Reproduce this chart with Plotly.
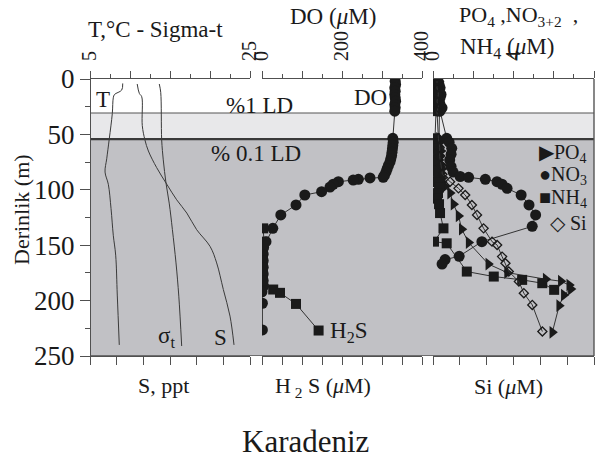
import plotly.graph_objects as go

# ---------------- data ----------------
t_depth = [4, 10, 14, 17, 31, 54, 72, 84, 95, 117, 141, 159, 195, 240]
t_vals = [9.09, 8.96, 8.06, 7.91, 7.79, 7.41, 7.09, 6.88, 7.29, 7.63, 7.91, 8.21, 8.41, 8.66]

sig_depth = [4.5, 12, 55, 73, 94, 112, 136, 166, 196, 241]
sig_vals = [13.66, 13.84, 13.96, 14.16, 14.5, 14.9, 15.3, 15.75, 16.1, 16.46]

s_depth = [4.5, 13, 16, 42, 55, 65, 80, 95, 109, 121, 136, 151, 166, 190, 214, 240]
s_vals = [17.77, 17.85, 17.94, 17.96, 18.06, 18.19, 18.5, 18.88, 19.25, 19.63, 20.0, 20.5, 20.75, 21.0, 21.25, 21.4]

do_depth = [2, 5, 8, 11, 14, 17, 20, 23, 26, 29,
            53.5, 57, 60, 63, 66, 69, 72, 75, 78, 81, 84, 87, 88.7,
            89.3, 90.5, 91.2, 92.7, 95, 97.5, 101.7, 104.7, 113.7, 122.7, 134.8, 146.8,
            152, 158, 164, 170, 176, 182, 187, 192, 202.4, 226.5]
do_vals = [333, 334, 332, 333, 332, 333, 334, 332, 333, 332,
           327, 328, 327, 326, 325, 324, 322, 320, 316, 313, 310, 306, 303,
           270, 241, 228, 191, 178, 170, 149, 107, 85, 47, 27, 10,
           4, 3, 3, 3, 3, 3, 4, 0, 1, 1]

h2s_depth = [134.8, 146.8, 152, 158, 164, 170, 176, 182, 190, 193, 203, 227]
h2s_vals = [0.6, 1.0, 0.5, 0.5, 0.5, 0.5, 0.5, 0.5, 5.6, 9.0, 17.0, 28.3]

po4_depth = [2, 5, 8, 11, 14, 17, 20, 23, 26, 29,
             53.5, 57, 61, 65, 69, 73, 77, 81, 85, 89, 93, 97,
             103, 113, 123.6, 135.6, 147.6, 167, 174.7, 180.7, 182.5, 186, 189.6, 195, 204.6, 228.6]
po4_vals = [0.3, 0.25, 0.35, 0.3, 0.28, 0.32, 0.3, 0.35, 0.3, 0.32,
            0.3, 0.35, 0.3, 0.4, 0.35, 0.3, 0.4, 0.45, 0.4, 0.5, 0.45, 0.6,
            0.85, 1.02, 1.27, 1.43, 1.77, 2.75, 3.68, 5.6, 6.35, 6.77, 6.85, 6.5, 6.27, 5.93]

no3_depth = [2, 5, 8, 11, 14, 17, 20, 23, 26, 29,
             53.5, 57, 62.6, 68, 73, 79, 84, 88, 88.7, 90.5, 92.7, 95, 98.7,
             104.7, 113.7, 122.7, 133, 146.8, 160, 163, 167]
no3_vals = [0.25, 0.3, 0.35, 0.3, 0.4, 0.35, 0.3, 0.35, 0.45, 0.35,
            0.68, 0.8, 0.93, 0.9, 0.83, 0.9, 1.0, 1.35, 1.77, 2.6, 3.18, 3.43, 3.68,
            4.38, 4.77, 5.1, 4.93, 2.43, 1.3, 0.6, 0.45]

nh4_depth = [2, 5, 8, 11, 14, 17, 20, 23, 26, 29,
             53.5, 58, 63, 68, 73, 78, 83, 88, 93, 98, 103, 108, 113,
             121, 134.8, 146.8, 148.3, 173.8, 178.3, 181.3, 184.3, 190.3]
nh4_vals = [0.1, 0.15, 0.1, 0.2, 0.15, 0.1, 0.2, 0.15, 0.1, 0.15,
            0.1, 0.2, 0.15, 0.25, 0.2, 0.15, 0.2, 0.25, 0.2, 0.3, 0.25, 0.2, 0.3,
            0.35, 0.52, 0.05, 0.68, 1.68, 3.02, 4.43, 5.43, 6.02]

si_depth = [2, 8, 14, 20, 26, 29, 53.5, 62, 70, 78, 86,
            92.7, 98.7, 104.7, 113.7, 122.7, 134.8, 146.8, 149.8, 160.3, 166.3, 173.8, 182.8, 193.3, 203.9, 227.9]
si_vals = [3, 3, 4, 3, 4, 3, 4, 5, 5, 6, 7,
           12.75, 19, 24, 29, 32.8, 37.7, 44, 47.8, 51.5, 54, 56.5, 64, 67.7, 74, 81.5]

# light zones (depth, m)
ld1_depth = 30.7
ld01_depth = 54.2
max_depth = 250

# ---------------- layout helpers ----------------
W, H = 603, 465
L, R, T, B = 90, 594, 79, 356
FONT = "Liberation Serif, Times New Roman, serif"
INK = "#1a1a1a"
AX = "#505050"


def px(x):
    return (x - L) / (R - L)


def py(y):
    return (B - y) / (B - T)


d1 = [px(90), px(250)]
d2 = [px(262), px(422)]
d3 = [px(433), 1.0]

fig = go.Figure()

line_style = dict(color="#3a3a3a", width=1)
conn = dict(color="#333333", width=1)

fig.add_trace(go.Scatter(x=t_vals, y=t_depth, xaxis="x", yaxis="y", mode="lines",
                         line=line_style, line_shape="spline"))
fig.add_trace(go.Scatter(x=sig_vals, y=sig_depth, xaxis="x", yaxis="y", mode="lines",
                         line=line_style, line_shape="spline"))
fig.add_trace(go.Scatter(x=s_vals, y=s_depth, xaxis="x4", yaxis="y", mode="lines",
                         line=line_style, line_shape="spline"))

fig.add_trace(go.Scatter(x=h2s_vals, y=h2s_depth, xaxis="x5", yaxis="y", mode="lines+markers",
                         line=conn, marker=dict(symbol="square", size=10, color=INK)))
fig.add_trace(go.Scatter(x=do_vals, y=do_depth, xaxis="x2", yaxis="y", mode="lines+markers",
                         line=conn, marker=dict(symbol="circle", size=11, color=INK)))

fig.add_trace(go.Scatter(x=si_vals, y=si_depth, xaxis="x6", yaxis="y", mode="lines+markers",
                         line=conn, marker=dict(symbol="diamond-open", size=7, color=INK,
                                                line=dict(width=1.3, color=INK))))
fig.add_trace(go.Scatter(x=po4_vals, y=po4_depth, xaxis="x3", yaxis="y", mode="lines+markers",
                         line=conn, marker=dict(symbol="triangle-right", size=11, color=INK)))
fig.add_trace(go.Scatter(x=nh4_vals, y=nh4_depth, xaxis="x3", yaxis="y", mode="lines+markers",
                         line=conn, marker=dict(symbol="square", size=10, color=INK)))
fig.add_trace(go.Scatter(x=no3_vals, y=no3_depth, xaxis="x3", yaxis="y", mode="lines+markers",
                         line=conn, marker=dict(symbol="circle", size=11, color=INK)))

axbase = dict(showline=True, linecolor=AX, linewidth=1.2, ticks="outside", tickcolor=AX,
              ticklen=7, tickwidth=1.1, showgrid=False, zeroline=False, automargin=False,
              tickfont=dict(family=FONT, size=20, color=INK))
top = dict(axbase, side="top", anchor="y", tickangle=-90, ticklabelstandoff=6)
bot = dict(axbase, side="bottom", anchor="y", showticklabels=False, ticklen=8)

fig.update_layout(
    width=W, height=H,
    margin=dict(l=L, r=W - R, t=T, b=H - B),
    plot_bgcolor="rgba(0,0,0,0)", paper_bgcolor="white", showlegend=False,
    hovermode=False,
    xaxis=dict(top, domain=d1, range=[5, 25], tickmode="array",
               tickvals=[5, 10, 15, 20, 25], ticktext=["5", "", "", "", "25"],
               minor=dict(tickmode="linear", tick0=5, dtick=2.5, ticklen=4, ticks="outside", tickcolor=AX)),
    xaxis2=dict(top, domain=d2, range=[0, 400], tickmode="array",
                tickvals=[0, 100, 200, 300, 400], ticktext=["0", "", "200", "", "400"],
                minor=dict(tickmode="linear", tick0=0, dtick=50, ticklen=4, ticks="outside", tickcolor=AX)),
    xaxis3=dict(top, domain=d3, range=[0, 8], tickmode="array",
                tickvals=[0, 2, 4, 6, 8], ticktext=["0", "", "4", "", "8"],
                minor=dict(tickmode="linear", tick0=0, dtick=1, ticklen=4, ticks="outside", tickcolor=AX)),
    xaxis4=dict(bot, domain=d1, range=[16, 22], dtick=1, tick0=16),
    xaxis5=dict(bot, domain=d2, range=[0, 80], dtick=10, tick0=0),
    xaxis6=dict(bot, domain=d3, range=[0, 120], dtick=20, tick0=0),
    yaxis=dict(axbase, range=[max_depth, 0], anchor="free", position=0, side="left",
               tickmode="array", tickvals=[0, 50, 100, 150, 200, 250],
               tickfont=dict(family=FONT, size=27, color=INK), ticklen=10,
               minor=dict(tickmode="linear", tick0=25, dtick=50, ticklen=5, ticks="outside", tickcolor=AX)),
)

shapes = [
    dict(type="rect", xref="paper", yref="y", x0=0, x1=1, y0=ld1_depth, y1=ld01_depth,
         fillcolor="#e8e8ea", line=dict(width=0), layer="below"),
    dict(type="rect", xref="paper", yref="y", x0=0, x1=1, y0=ld01_depth, y1=max_depth,
         fillcolor="#c1c1c5", line=dict(width=0), layer="below"),
    dict(type="line", xref="paper", yref="y", x0=0, x1=1, y0=ld1_depth, y1=ld1_depth,
         line=dict(color="#555555", width=1.2), layer="below"),
    dict(type="line", xref="paper", yref="y", x0=0, x1=1, y0=ld01_depth, y1=ld01_depth,
         line=dict(color="#3a3a3a", width=2.2), layer="below"),
    dict(type="line", xref="paper", yref="y", x0=1, x1=1, y0=0, y1=max_depth,
         line=dict(color="#555555", width=1.4), layer="above"),
    dict(type="line", xref="paper", yref="y", x0=0, x1=1, y0=max_depth, y1=max_depth,
         line=dict(color="#505050", width=1.4), layer="above"),
]
fig.update_layout(shapes=shapes)


def ann(text, x, y, size=20, xanchor="center", yanchor="middle", angle=0):
    fig.add_annotation(text=text, x=px(x), y=py(y), xref="paper", yref="paper",
                       showarrow=False, xanchor=xanchor, yanchor=yanchor, textangle=angle,
                       font=dict(family=FONT, size=size, color=INK))


ann("T,°C - Sigma-t", 155, 30, 23)
ann("DO (<i>μ</i>M)", 333, 16, 23)
ann("PO<sub>4</sub> ,NO<sub>3+2</sub>  ,", 457, 16, 22, xanchor="left")
ann("NH<sub>4</sub> (<i>μ</i>M)", 458, 48, 23, xanchor="left")
ann("T", 103, 100, 23)
ann("%1 LD", 259, 105, 23)
ann("% 0.1 LD", 256, 153, 23)
ann("DO", 389, 97, 23, xanchor="right")
ann("σ<sub>t</sub>", 166, 337, 23)
ann("S", 220, 337, 23)
ann("H<sub>2</sub>S", 328, 332, 23, xanchor="left")
ann("▶PO<sub>4</sub>", 589, 153, 20, xanchor="right")
ann("●NO<sub>3</sub>", 589, 175, 20, xanchor="right")
ann("■NH<sub>4</sub>", 589, 198, 20, xanchor="right")
ann("◇ Si", 589, 223, 20, xanchor="right")
ann("S, ppt", 163, 385, 22)
ann("H<sub> 2</sub> S (<i>μ</i>M)", 323, 387, 22)
ann("Si (<i>μ</i>M)", 508, 386, 22)
ann("Karadeniz", 305, 441, 31)
ann("Derinlik (m)", 22, 210, 22, angle=-90)

fig.write_html("out.html", config={"displayModeBar": False},
               post_script="document.body.style.margin='0';")
